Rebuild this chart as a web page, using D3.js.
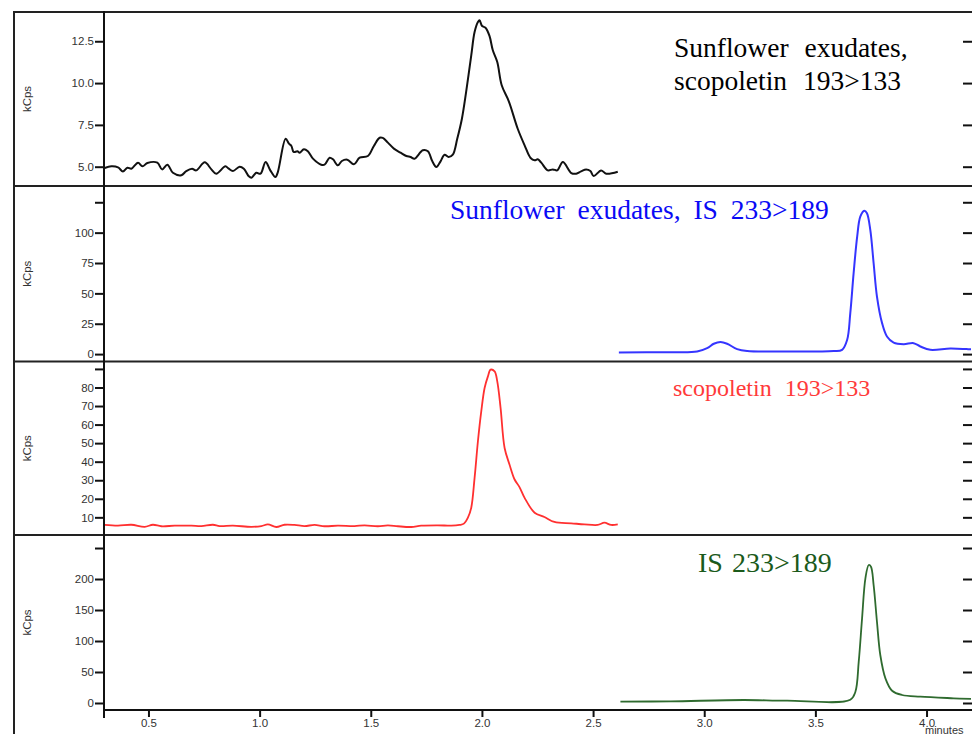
<!DOCTYPE html>
<html>
<head>
<meta charset="utf-8">
<script src="https://cdn.jsdelivr.net/npm/d3@7"></script>
<style>
  body { margin: 0; background: #fff; }
  svg { display: block; }
</style>
</head>
<body>
<svg width="972" height="734"></svg>
<script>
// time (minutes) / kCps pairs
const exudScopoletin = [
  [0.303,4.92],[0.333,5.02],[0.363,4.96],[0.385,4.72],[0.405,4.94],[0.423,4.88],[0.453,5.24],
  [0.473,5.02],[0.495,5.22],[0.540,5.24],[0.561,4.84],[0.585,5.12],[0.610,4.64],[0.648,4.49],
  [0.670,4.74],[0.696,4.88],[0.715,4.78],[0.753,5.26],[0.783,4.84],[0.805,4.58],[0.846,5.02],
  [0.861,4.88],[0.880,4.74],[0.910,5.00],[0.929,4.88],[0.951,4.43],[0.963,4.34],[0.985,4.64],
  [1.004,4.58],[1.027,5.28],[1.048,4.78],[1.071,4.38],[1.082,4.68],[1.117,6.67],[1.132,6.38],
  [1.143,6.24],[1.153,5.88],[1.170,5.92],[1.180,5.84],[1.199,6.04],[1.217,5.92],[1.240,5.48],
  [1.277,5.12],[1.292,5.12],[1.315,5.54],[1.330,5.44],[1.352,5.08],[1.370,5.34],[1.394,5.42],
  [1.424,5.14],[1.450,5.54],[1.487,5.64],[1.514,6.24],[1.540,6.73],[1.554,6.72],[1.577,6.44],
  [1.604,6.08],[1.634,5.84],[1.660,5.64],[1.679,5.58],[1.697,5.48],[1.734,5.98],[1.757,5.92],
  [1.777,5.32],[1.795,4.98],[1.814,5.32],[1.832,5.72],[1.850,5.58],[1.869,5.72],[1.889,6.67],
  [1.910,7.87],[1.929,9.47],[1.952,11.66],[1.967,13.05],[1.982,13.65],[1.989,13.75],[2.001,13.41],
  [2.016,13.31],[2.034,12.82],[2.049,11.96],[2.069,11.26],[2.089,9.87],[2.121,8.91],[2.161,7.27],
  [2.192,6.28],[2.219,5.52],[2.237,5.38],[2.251,5.44],[2.267,5.24],[2.296,4.78],[2.319,4.84],
  [2.339,4.78],[2.364,5.28],[2.402,4.62],[2.424,4.58],[2.446,4.72],[2.469,4.84],[2.488,4.74],
  [2.503,4.44],[2.536,4.78],[2.559,4.58],[2.611,4.70]
];
const exudIS = [
  [2.616,1.3],[2.833,1.6],[2.968,2.1],[3.013,4.9],[3.043,8.5],[3.073,9.9],[3.103,8.5],[3.148,4.1],
  [3.193,2.5],[3.357,2.1],[3.582,2.5],[3.620,3.5],[3.643,11.8],[3.657,33.7],[3.672,66.6],
  [3.688,96.7],[3.702,113.2],[3.720,118.1],[3.732,116.0],[3.747,102.2],[3.762,74.8],[3.777,47.4],
  [3.800,25.5],[3.822,14.5],[3.852,9.5],[3.897,8.2],[3.942,9.0],[3.972,6.3],[4.017,3.5],
  [4.107,4.6],[4.182,4.1],[4.200,4.0]
];
const stdScopoletin = [
  [0.303,5.9],[0.363,5.5],[0.423,6.0],[0.483,4.9],[0.520,6.0],[0.558,5.2],[0.618,5.5],[0.693,5.5],
  [0.738,5.3],[0.790,6.0],[0.820,5.3],[0.880,5.5],[0.963,4.9],[1.008,5.3],[1.037,6.2],[1.075,4.8],
  [1.112,6.0],[1.157,5.9],[1.202,5.3],[1.247,5.9],[1.292,5.2],[1.352,5.5],[1.427,5.3],[1.472,5.7],
  [1.532,5.2],[1.577,5.7],[1.622,5.2],[1.682,4.8],[1.727,5.5],[1.802,5.7],[1.862,5.5],[1.899,5.9],
  [1.919,6.6],[1.937,9.8],[1.952,15.2],[1.967,31.3],[1.982,51.0],[1.997,67.1],[2.012,79.7],
  [2.027,86.0],[2.039,89.6],[2.057,88.7],[2.069,83.3],[2.084,68.9],[2.102,47.4],[2.124,38.5],
  [2.147,30.4],[2.169,26.3],[2.192,20.5],[2.237,12.5],[2.281,10.2],[2.326,7.5],[2.402,6.8],
  [2.461,6.2],[2.521,5.9],[2.551,7.1],[2.581,5.9],[2.611,6.2]
];
const stdIS = [
  [2.623,2.1],[2.848,2.7],[3.178,4.8],[3.373,3.7],[3.657,5.3],[3.680,18.2],[3.695,66.6],
  [3.710,136.6],[3.725,201.1],[3.740,222.6],[3.750,219.8],[3.762,190.3],[3.777,131.1],
  [3.792,77.4],[3.815,39.8],[3.845,19.8],[3.890,12.9],[3.972,10.2],[4.122,7.6],[4.200,6.5]
];

const xTicks = [0.5, 1.0, 1.5, 2.0, 2.5, 3.0, 3.5, 4.0];
const yTicks1 = [5, 7.5, 10, 12.5];
const yTicks2 = [0, 25, 50, 75, 100, 125];
const yTicks3 = [10, 20, 30, 40, 50, 60, 70, 80, 90];
const yTicks4 = [0, 50, 100, 150, 200, 250];
const unlabeled = [125, 90, 250];

const panels = [
  { data: exudScopoletin, ticks: yTicks1, domain: [3.846, 14.25], top: 12, bottom: 186,
    color: '#111', width: 2, fmt: d3.format('.1f'),
    label: ['Sunflower exudates,', 'scopoletin 193>133'], lx: 674, ly: [57, 90], lsize: 27.5,
    lcolor: '#000', wsp: 9 },
  { data: exudIS, ticks: yTicks2, domain: [-6.09, 138.4], top: 186, bottom: 361.5,
    color: '#3535ff', width: 2, fmt: d3.format('d'),
    label: ['Sunflower exudates, IS 233>189'], lx: 450, ly: [219], lsize: 27.5,
    lcolor: '#0a0af5', wsp: 6 },
  { data: stdScopoletin, ticks: yTicks3, domain: [0.48, 94.0], top: 361.5, bottom: 535,
    color: '#ff3030', width: 1.8, fmt: d3.format('d'),
    label: ['scopoletin 193>133'], lx: 673, ly: [396], lsize: 24,
    lcolor: '#ff3a3a', wsp: 7 },
  { data: stdIS, ticks: yTicks4, domain: [-11.3, 271.0], top: 535, bottom: 710,
    color: '#2f6b2f', width: 1.8, fmt: d3.format('d'),
    label: ['IS 233>189'], lx: 698, ly: [572], lsize: 28,
    lcolor: '#1b5a1b', wsp: 2 }
];

const svg = d3.select('svg');
const left = 104, right = 971;
const axisFont = '11.5px "Liberation Sans", Arial, sans-serif';

const x = d3.scaleLinear().domain([0.3, 4.2]).range([left, right]);

const gPlot = svg.append('g');
const gFrame = svg.append('g');

panels.forEach(function (p) {
  let y = d3.scaleLinear().domain(p.domain).range([p.bottom, p.top]);

  let line = d3.line()
    .x(d => x(d[0]))
    .y(d => y(d[1]))
    .curve(d3.curveCatmullRom.alpha(0.5));

  gPlot.append('path')
    .datum(p.data)
    .attr('fill', 'none')
    .attr('stroke', p.color)
    .attr('stroke-width', p.width)
    .attr('stroke-linejoin', 'round')
    .attr('d', line);

  let axisL = d3.axisLeft(y)
    .tickValues(p.ticks)
    .tickSize(9)
    .tickSizeOuter(0)
    .tickPadding(1)
    .tickFormat(d => unlabeled.includes(d) ? '' : p.fmt(d));

  let gl = gFrame.append('g')
    .attr('transform', `translate(${left},0)`)
    .call(axisL);
  gl.select('.domain').remove();
  gl.selectAll('line').attr('stroke', '#111').attr('stroke-width', 2);
  gl.selectAll('text')
    .attr('fill', '#333')
    .style('font', axisFont);

  let axisR = d3.axisLeft(y)
    .tickValues(p.ticks)
    .tickSize(9)
    .tickSizeOuter(0)
    .tickFormat('');
  let gr = gFrame.append('g')
    .attr('transform', `translate(972,0)`)
    .call(axisR);
  gr.select('.domain').remove();
  gr.selectAll('line').attr('stroke', '#111').attr('stroke-width', 2);

  gFrame.append('text')
    .attr('transform', `translate(31,${(p.top + p.bottom) / 2}) rotate(-90)`)
    .attr('text-anchor', 'middle')
    .attr('fill', '#333')
    .style('font', axisFont)
    .text('kCps');

  p.label.forEach(function (s, i) {
    gFrame.append('text')
      .attr('x', p.lx)
      .attr('y', p.ly[i])
      .attr('fill', p.lcolor)
      .style('font', `${p.lsize}px "Liberation Serif", "Times New Roman", serif`)
      .style('word-spacing', p.wsp + 'px')
      .text(s);
  });
});

// frame: outer left line, top border, panel separators, inner y axis
const frame = d3.line();
const hLines = [12, 186, 361.5, 535];
hLines.forEach(function (yy) {
  gFrame.append('path')
    .attr('d', frame([[14, yy], [972, yy]]))
    .attr('stroke', '#222').attr('stroke-width', 2).attr('fill', 'none');
});
gFrame.append('path')
  .attr('d', frame([[14, 11], [14, 734]]))
  .attr('stroke', '#222').attr('stroke-width', 2).attr('fill', 'none');
gFrame.append('path')
  .attr('d', frame([[left, 11], [left, 718]]))
  .attr('stroke', '#111').attr('stroke-width', 2).attr('fill', 'none');

// x axis
let axisB = d3.axisBottom(x)
  .tickValues(xTicks)
  .tickSize(7)
  .tickSizeOuter(0)
  .tickPadding(2)
  .tickFormat(d3.format('.1f'));
let gb = gFrame.append('g')
  .attr('transform', 'translate(0,710)')
  .call(axisB);
gb.select('.domain').remove();
gb.selectAll('line').attr('stroke', '#111').attr('stroke-width', 2);
gb.selectAll('text')
  .attr('fill', '#333')
  .style('font', axisFont);
gFrame.append('path')
  .attr('d', frame([[left, 710], [972, 710]]))
  .attr('stroke', '#111').attr('stroke-width', 2).attr('fill', 'none');

gFrame.append('text')
  .attr('x', 925)
  .attr('y', 734)
  .attr('fill', '#333')
  .style('font', '11px "Liberation Sans", Arial, sans-serif')
  .text('minutes');
</script>
</body>
</html>
